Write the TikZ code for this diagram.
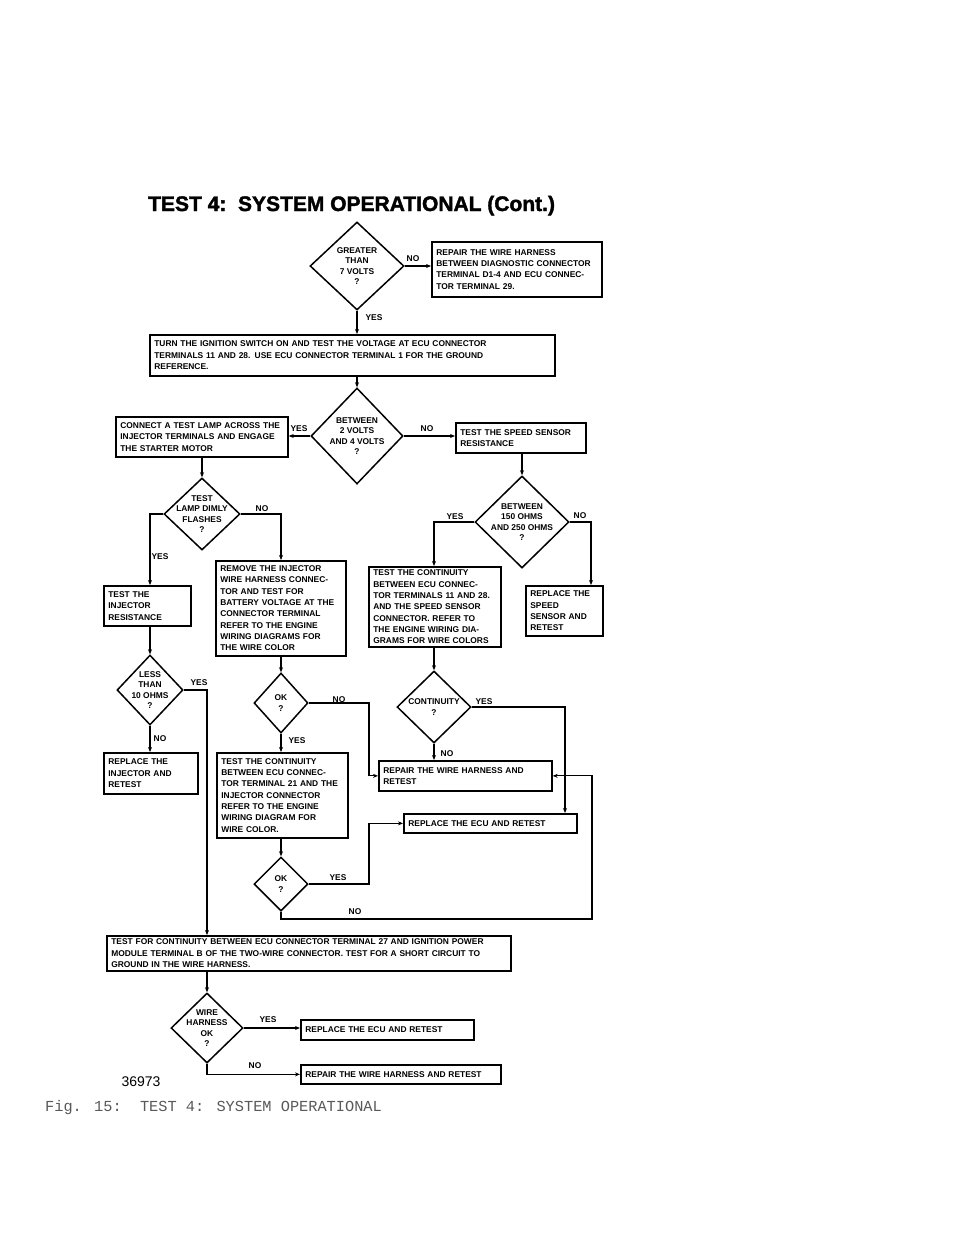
\documentclass[tikz,border=0pt]{standalone}
\usepackage{fontspec}
\setmainfont{Liberation Sans}
\newfontfamily\monof{Liberation Mono}
\newfontfamily\titlef[FakeBold=1.8]{Liberation Sans Bold}
\usetikzlibrary{shapes.geometric,arrows.meta,calc}
\tikzset{
 box/.style={draw, line width=1.7pt, inner xsep=4.5pt, inner ysep=2pt, align=left, font=\fontsize{8.4}{11.3}\selectfont\bfseries, anchor=north west},
 dia/.style={draw, diamond, line width=1.5pt, inner sep=0pt},
 dtext/.style={align=center, font=\fontsize{8.4}{10.5}\selectfont\bfseries, inner sep=0pt},
 arr/.style={line width=1.1pt, -{Stealth[length=5pt,width=4pt]}},
 lab/.style={font=\fontsize{8.4}{9}\selectfont\bfseries, inner sep=0pt},
}
\newcommand\mybox[6]{%
 \pgfmathsetmacro\bw{#4-#2}\pgfmathsetmacro\bh{#5-#3}\pgfmathsetmacro\tw{#4-#2-9}%
 \node[box, minimum width=\bw pt, minimum height=\bh pt, text width=\tw pt] (#1) at (#2,#3) {#6};}
\newcommand\mydia[6]{%
 \node[dia, minimum width={2*#4}, minimum height={2*#5}] (#1) at (#2,#3) {};
 \node[dtext] (#1t) at (#1.center) {#6};}
\begin{document}
\begin{tikzpicture}[x=1pt,y=-1pt]
\useasboundingbox[fill=white] (0,0) rectangle (960,1242);
\node[font=\titlef\fontsize{21}{21}\selectfont, anchor=base west, inner sep=0pt] (title) at (148,211) {TEST 4:\ \ SYSTEM OPERATIONAL (Cont.)};

% diamonds
\mydia{d1}{357}{266}{47}{44}{GREATER\\THAN\\7 VOLTS\\?}
\mydia{d2}{357}{436}{46}{48}{BETWEEN\\2 VOLTS\\AND 4 VOLTS\\?}
\mydia{d3}{202}{514}{38}{36}{TEST\\LAMP DIMLY\\FLASHES\\?}
\mydia{d4}{522}{522}{47}{46}{BETWEEN\\150 OHMS\\AND 250 OHMS\\?}
\mydia{d5}{150}{690}{33}{35}{LESS\\THAN\\10 OHMS\\?}
\mydia{d6}{281}{703}{27}{30}{OK\\?}
\mydia{d8}{434}{707}{37}{36}{CONTINUITY\\?}
\mydia{d7}{281}{884}{27}{27}{OK\\?}
\mydia{d9}{207}{1028}{36}{35}{WIRE\\HARNESS\\OK\\?}

% boxes
\mybox{r1}{431}{241}{601}{296}{REPAIR THE WIRE HARNESS\\BETWEEN DIAGNOSTIC CONNECTOR\\TERMINAL D1-4 AND ECU CONNEC-\\TOR TERMINAL 29.}
\mybox{b1}{149}{334}{554}{375}{TURN THE IGNITION SWITCH ON AND TEST THE VOLTAGE AT ECU CONNECTOR\\TERMINALS 11 AND 28. USE ECU CONNECTOR TERMINAL 1 FOR THE GROUND\\REFERENCE.}
\mybox{b2}{115}{416}{287}{456}{CONNECT A TEST LAMP ACROSS THE\\INJECTOR TERMINALS AND ENGAGE\\THE STARTER MOTOR}
\mybox{b3}{455}{422}{585}{452}{TEST THE SPEED SENSOR\\RESISTANCE}
\mybox{b4}{103}{585}{190}{625}{TEST THE\\INJECTOR\\RESISTANCE}
\mybox{b5}{215}{560}{345}{655}{REMOVE THE INJECTOR\\WIRE HARNESS CONNEC-\\TOR AND TEST FOR\\BATTERY VOLTAGE AT THE\\CONNECTOR TERMINAL\\REFER TO THE ENGINE\\WIRING DIAGRAMS FOR\\THE WIRE COLOR}
\mybox{b10}{368}{566}{500}{646}{TEST THE CONTINUITY\\BETWEEN ECU CONNEC-\\TOR TERMINALS 11 AND 28.\\AND THE SPEED SENSOR\\CONNECTOR. REFER TO\\THE ENGINE WIRING DIA-\\GRAMS FOR WIRE COLORS}
\mybox{b11}{525}{585}{602}{635}{REPLACE THE\\SPEED\\SENSOR AND\\RETEST}
\mybox{b6}{103}{752}{197}{793}{REPLACE THE\\INJECTOR AND\\RETEST}
\mybox{b7}{216}{752}{347}{837}{TEST THE CONTINUITY\\BETWEEN ECU CONNEC-\\TOR TERMINAL 21 AND THE\\INJECTOR CONNECTOR\\REFER TO THE ENGINE\\WIRING DIAGRAM FOR\\WIRE COLOR.}
\mybox{b8}{378}{760}{551}{790}{REPAIR THE WIRE HARNESS AND\\RETEST}
\mybox{b9}{403}{813}{576}{832}{REPLACE THE ECU AND RETEST}
\mybox{bb}{106}{935}{510}{970}{TEST FOR CONTINUITY BETWEEN ECU CONNECTOR TERMINAL 27 AND IGNITION POWER\\MODULE TERMINAL B OF THE TWO-WIRE CONNECTOR. TEST FOR A SHORT CIRCUIT TO\\GROUND IN THE WIRE HARNESS.}
\mybox{b12}{300}{1019}{473}{1039}{REPLACE THE ECU AND RETEST}
\mybox{b13}{300}{1064}{500}{1083}{REPAIR THE WIRE HARNESS AND RETEST}

% helper coordinates
\coordinate (cx150) at (150,0);
\coordinate (cx207) at (207,0);
\coordinate (cx369) at (369,0);
\coordinate (cx565) at (565,0);
\coordinate (cx591) at (591,0);
\coordinate (c4) at (592,919);

% connectors
\draw[arr] (d1.east) -- (d1.east -| r1.west);
\draw[arr] (d1.south) -- (d1.south |- b1.north);
\draw[arr] (d2.north |- b1.south) -- (d2.north);
\draw[arr] (d2.west) -- (d2.west -| b2.east);
\draw[arr] (d2.east) -- (d2.east -| b3.west);
\draw[arr] (d3.north |- b2.south) -- (d3.north);
\draw[arr] (d4.north |- b3.south) -- (d4.north);
\draw[arr] (d3.west) -| (cx150 |- b4.north);
\draw[arr] (d3.east) -| (d6.north |- b5.north);
\draw[arr] (d4.west) -| (d8.north |- b10.north);
\draw[arr] (d4.east) -| (cx591 |- b11.north);
\draw[arr] (d5.north |- b4.south) -- (d5.north);
\draw[arr] (d5.south) -- (d5.south |- b6.north);
\draw[arr] (d5.east) -| (cx207 |- bb.north);
\draw[arr] (d6.north |- b5.south) -- (d6.north);
\draw[arr] (d6.south) -- (d6.south |- b7.north);
\draw[arr] (d6.east) -- (d6.east -| cx369) |- (b8.west);
\draw[arr] (d8.north |- b10.south) -- (d8.north);
\draw[arr] (d8.south) -- (d8.south |- b8.north);
\draw[arr] (d8.east) -| (cx565 |- b9.north);
\draw[arr] (d7.north |- b7.south) -- (d7.north);
\draw[arr] (d7.east) -- (d7.east -| cx369) |- (b9.west);
\draw[arr] (d7.south) |- (c4) |- (b8.east);
\draw[arr] (d9.north |- bb.south) -- (d9.north);
\draw[arr] (d9.east) -- (d9.east -| b12.west);
\draw[arr] (d9.south) |- (b13.west);

% labels
\node[lab] (l1) at (413,259) {NO};
\node[lab] (l2) at (374,318) {YES};
\node[lab] (l3) at (299,429) {YES};
\node[lab] (l4) at (427,429) {NO};
\node[lab] (l5) at (262,509) {NO};
\node[lab] (l6) at (160,557) {YES};
\node[lab] (l7) at (455,517) {YES};
\node[lab] (l8) at (580,516) {NO};
\node[lab] (l9) at (199,683) {YES};
\node[lab] (l10) at (160,739) {NO};
\node[lab] (l11) at (339,700) {NO};
\node[lab] (l12) at (297,741) {YES};
\node[lab] (l13) at (484,702) {YES};
\node[lab] (l14) at (447,754) {NO};
\node[lab] (l15) at (338,878) {YES};
\node[lab] (l16) at (355,912) {NO};
\node[lab] (l17) at (268,1020) {YES};
\node[lab] (l18) at (255,1066) {NO};

% footer
\node[font=\fontsize{14}{14}\selectfont, anchor=base, inner sep=0pt] (num) at (141,1086) {36973};
\node[font=\monof\fontsize{15.3}{16}\selectfont, text=black!65, anchor=base west, inner sep=0pt] (cap) at (45,1111) {Fig. 15:\ \ TEST 4: SYSTEM OPERATIONAL};
\end{tikzpicture}
\end{document}
